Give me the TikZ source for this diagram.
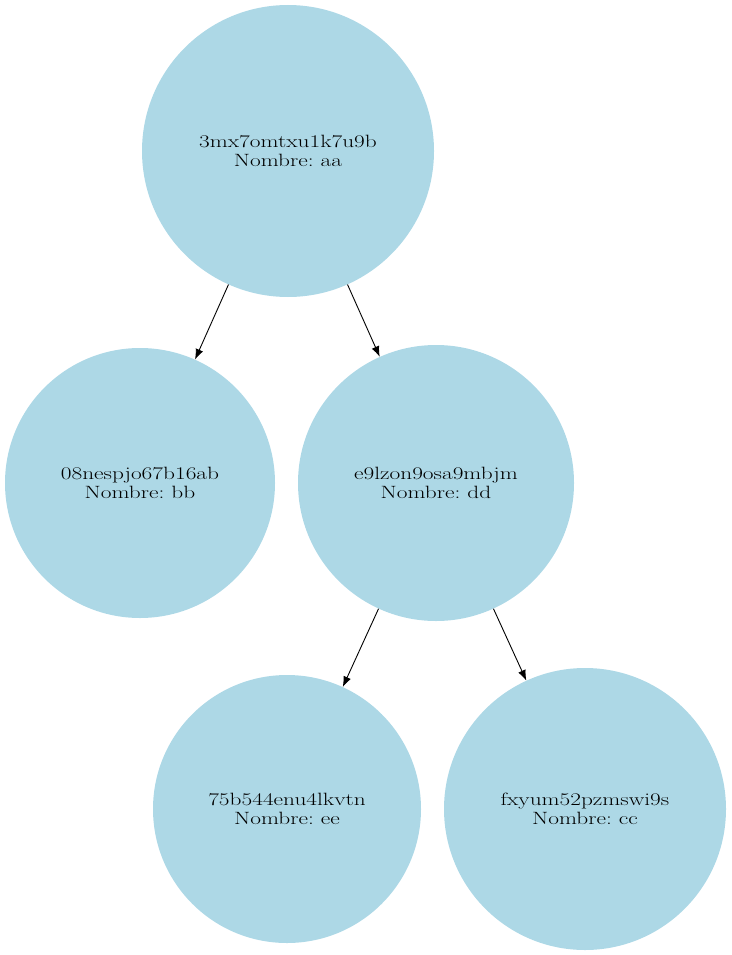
\documentclass[tikz,border=0pt]{standalone}
\usepackage{graphicx}
\usetikzlibrary{arrows.meta}
\definecolor{lblue}{RGB}{173,216,230}
\newcommand{\fs}{\fontsize{17.8}{19.3}\selectfont\frenchspacing}
\newcommand{\xs}[1]{\scalebox{1.31}[1]{#1}}
% node of the tree: name, x, y, radius, key, nombre
\newcommand{\tnode}[6]{
\node[tn, minimum size=#4*2pt] (#1) at (#2,#3) {\xs{#5}\\\xs{Nombre: #6}};
}
\newcommand{\tedge}[2]{
\draw[tarrow] (#1) -- (#2);
}

\begin{document}
\begin{tikzpicture}[x=1pt,y=-1pt,
  tn/.style={circle, fill=lblue, inner sep=0pt, align=center, font=\fs},
  tarrow/.style={-{Latex[length=10.5pt,width=8pt]}, line width=0.9pt, black}]

\useasboundingbox (0,0) rectangle (731,955);

\tnode{aa}{288}{151}{146}{3mx7omtxu1k7u9b}{aa}
\tnode{bb}{140}{483}{135}{08nespjo67b16ab}{bb}
\tnode{dd}{436}{483}{138}{e9lzon9osa9mbjm}{dd}
\tnode{ee}{287}{809}{134}{75b544enu4lkvtn}{ee}
\tnode{cc}{585}{809}{141}{fxyum52pzmswi9s}{cc}

% edges
\tedge{aa}{bb}
\tedge{aa}{dd}
\tedge{dd}{ee}
\tedge{dd}{cc}

\end{tikzpicture}
\end{document}
